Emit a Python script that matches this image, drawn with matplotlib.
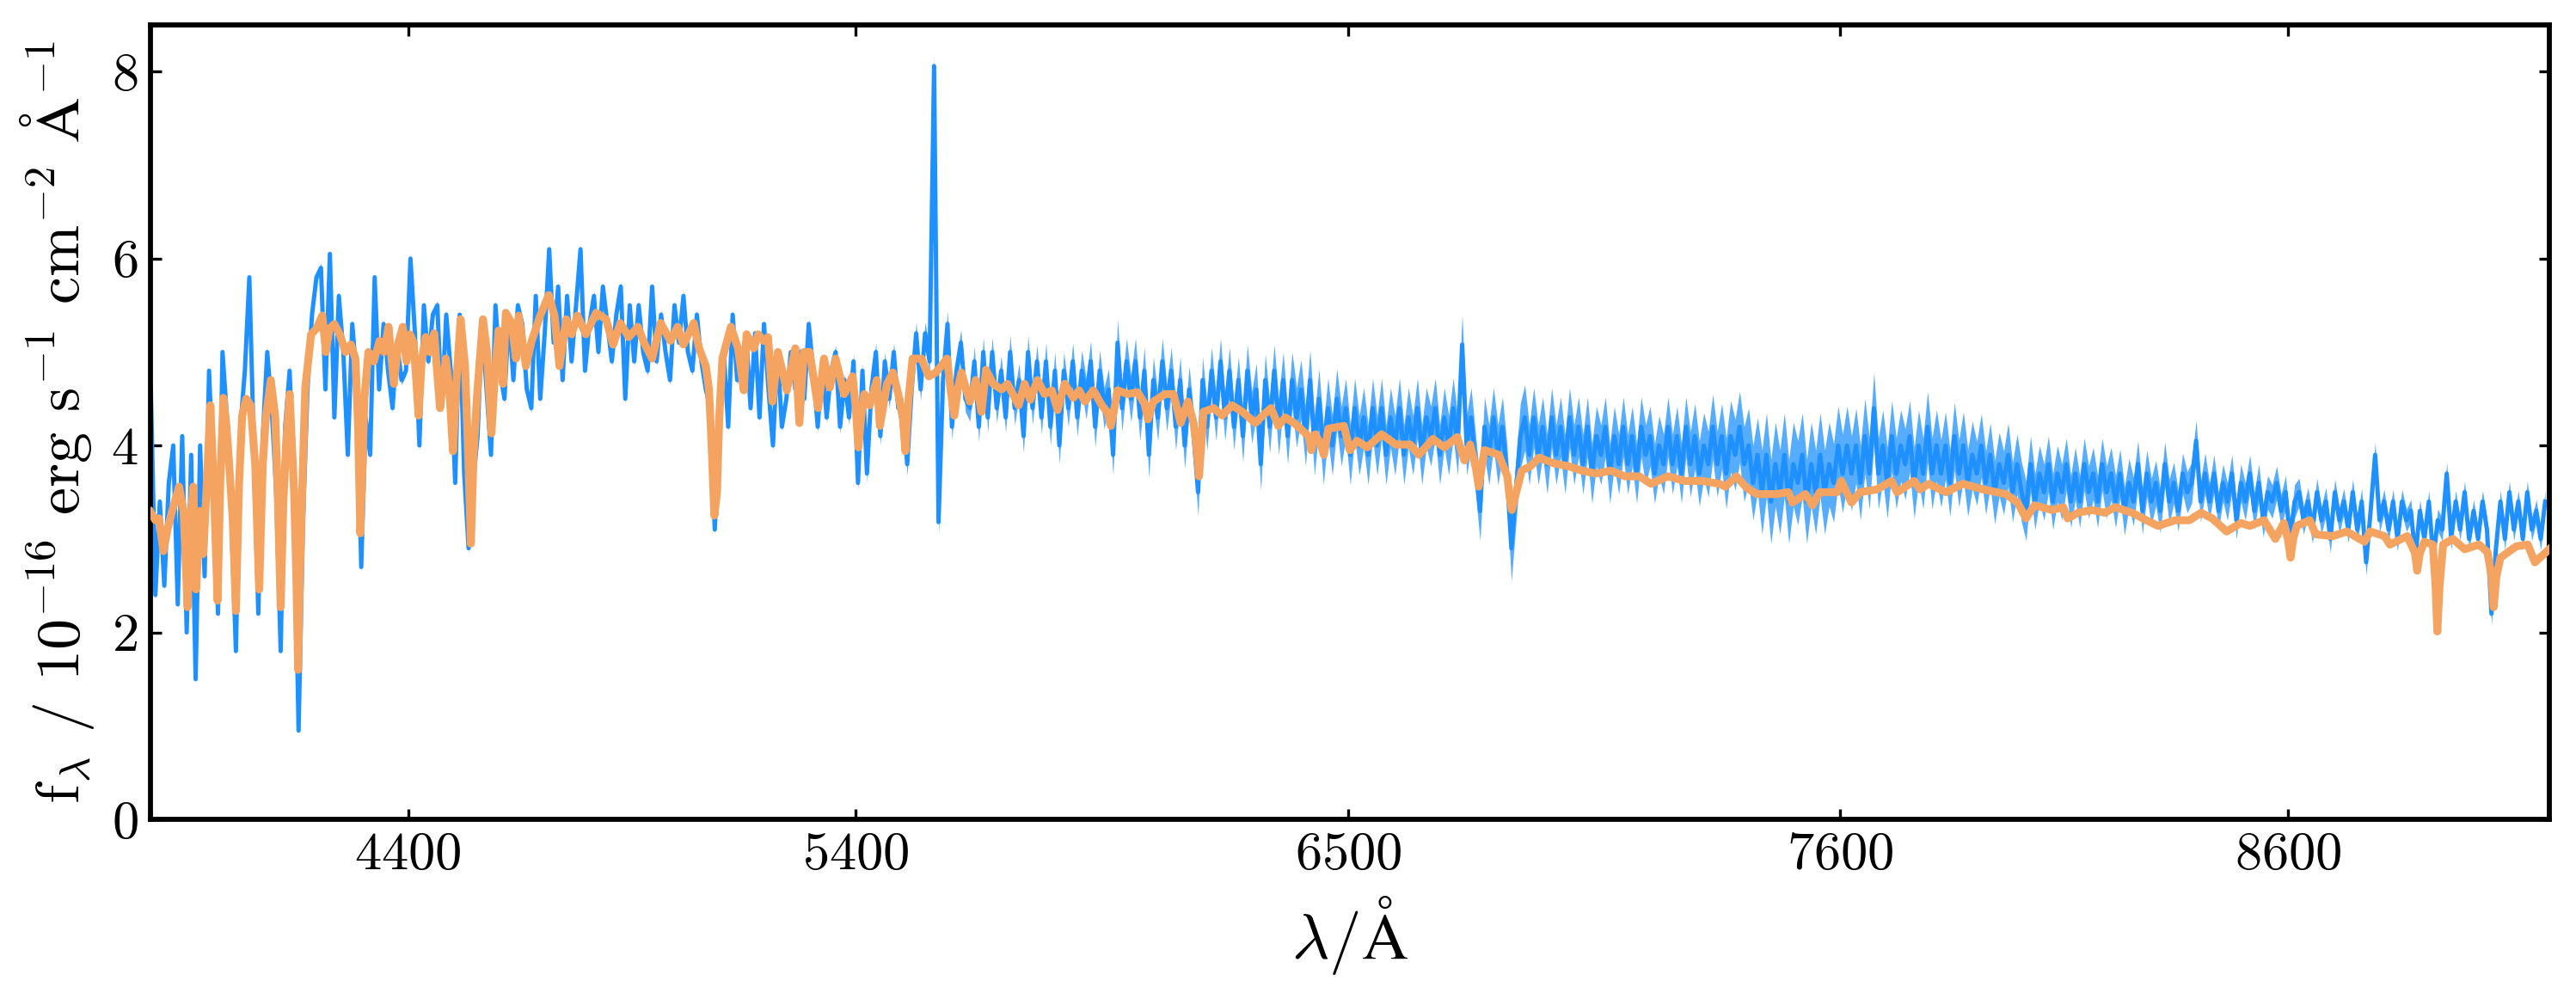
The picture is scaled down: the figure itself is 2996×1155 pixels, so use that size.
import matplotlib.pyplot as plt
import numpy as np

plt.rcParams['font.family'] = 'serif'
plt.rcParams['font.serif'] = ['cmr10']
plt.rcParams['mathtext.fontset'] = 'cm'
plt.rcParams['axes.formatter.use_mathtext'] = True

# observed flux, 10 A sampling from 3825 A
flux = [
    4.6, 2.4, 3.4, 2.5, 3.6, 4.0, 2.3, 4.1, 2.0, 3.9, 1.5, 4.0, 2.6, 4.8, 3.6, 2.2, 5.0, 4.3, 3.2, 1.8,
    4.2, 4.8, 5.8, 4.0, 2.2, 4.1, 5.0, 4.4, 3.5, 1.8, 4.2, 4.8, 3.6, 0.95, 3.2, 4.6, 5.4, 5.8, 5.9, 4.6,
    6.05, 4.3, 5.6, 5.0, 3.9, 5.3, 4.7, 2.7, 4.3, 3.9, 5.8, 4.6, 5.3, 4.8, 4.4, 5.1, 4.7, 4.8, 6.0, 5.2,
    4.0, 5.5, 4.9, 5.4, 5.5, 4.4, 5.4, 4.8, 3.6, 5.4, 3.7, 2.9, 3.6, 4.1, 5.3, 4.6, 3.9, 5.5, 4.8, 4.5,
    5.4, 4.7, 5.5, 5.3, 4.6, 4.4, 5.6, 4.5, 5.2, 6.1, 5.1, 5.7, 4.7, 5.6, 4.9, 5.5, 6.1, 4.8, 5.3, 5.6,
    5.0, 5.7, 5.3, 4.9, 5.4, 5.7, 4.5, 5.5, 4.9, 5.5, 5.0, 4.8, 5.7, 4.9, 5.4, 5.0, 4.7, 5.5, 5.1, 5.6,
    5.0, 4.8, 5.4, 4.9, 4.6, 4.4, 3.1, 4.2, 5.0, 4.2, 5.4, 4.7, 4.9, 5.2, 4.4, 5.2, 4.3, 5.3, 4.6, 4.0,
    5.0, 4.2, 4.5, 5.0, 4.6, 5.0, 4.5, 5.3, 4.8, 4.2, 4.9, 4.3, 4.8, 5.0, 4.2, 4.7, 4.3, 4.9, 3.6, 4.8,
    3.7, 4.6, 5.0, 4.1, 4.9, 4.5, 5.0, 4.4, 4.4, 3.8, 4.6, 5.2, 4.6, 5.2, 4.9, 8.06, 3.18, 4.7, 5.3, 4.2,
    4.8, 5.1, 4.5, 4.4, 4.9, 4.2, 5.0, 4.3, 5.0, 4.4, 4.8, 4.3, 5.0, 4.4, 4.7, 4.1, 5.0, 4.4, 4.9, 4.3,
    4.9, 4.2, 4.8, 4.0, 4.8, 4.4, 4.9, 4.3, 4.8, 4.5, 4.9, 4.2, 4.8, 4.4, 4.6, 3.9, 5.1, 4.4, 4.9, 4.5,
    4.9, 4.3, 4.8, 3.9, 4.7, 4.3, 4.9, 4.4, 4.8, 4.2, 4.7, 4.0, 4.6, 4.1, 3.5, 4.7, 4.2, 4.8, 4.3, 4.9,
    4.3, 4.8, 4.2, 4.7, 4.1, 4.8, 4.3, 4.6, 3.8, 4.7, 4.2, 4.8, 4.2, 4.7, 4.1, 4.7, 4.3, 4.6, 4.1, 4.7,
    4.0, 4.5, 3.9, 4.4, 4.0, 4.5, 4.1, 4.4, 3.9, 4.4, 4.0, 4.3, 3.9, 4.4, 4.0, 4.4, 3.9, 4.3, 4.0, 4.4,
    3.9, 4.3, 4.0, 4.4, 3.9, 4.3, 4.1, 4.4, 3.9, 4.3, 4.0, 4.4, 4.0, 5.08, 4.0, 4.3, 3.8, 3.3, 4.2, 3.9,
    4.3, 3.9, 4.2, 3.7, 2.9, 3.5, 4.1, 4.3, 3.9, 4.3, 3.9, 4.2, 3.8, 4.3, 3.9, 4.2, 3.8, 4.3, 3.9, 4.2,
    3.8, 4.2, 3.7, 4.1, 3.9, 4.2, 3.7, 4.1, 3.8, 4.2, 3.8, 4.1, 3.7, 4.2, 3.9, 4.1, 3.7, 4.0, 3.8, 4.2,
    3.8, 4.1, 3.7, 4.2, 3.8, 4.1, 3.7, 4.0, 3.8, 4.2, 3.8, 4.1, 3.7, 4.1, 3.9, 4.2, 3.8, 4.0, 3.6, 3.9,
    3.5, 3.9, 3.4, 3.8, 3.5, 3.9, 3.4, 3.8, 3.6, 3.9, 3.4, 3.8, 3.5, 3.9, 3.5, 3.8, 3.6, 4.0, 3.7, 4.0,
    3.7, 4.0, 3.6, 4.1, 3.7, 4.4, 3.7, 4.0, 3.6, 4.1, 3.7, 4.0, 3.8, 4.1, 3.6, 4.0, 3.7, 4.2, 3.7, 4.0,
    3.7, 4.0, 3.6, 4.1, 3.7, 4.0, 3.6, 3.9, 3.7, 4.0, 3.6, 3.9, 3.5, 3.8, 3.6, 3.9, 3.5, 3.8, 3.5, 3.3,
    3.8, 3.4, 3.7, 3.5, 3.8, 3.4, 3.7, 3.5, 3.8, 3.4, 3.7, 3.4, 3.8, 3.5, 3.7, 3.4, 3.8, 3.5, 3.7, 3.4,
    3.7, 3.3, 3.6, 3.4, 3.8, 3.3, 3.7, 3.4, 3.6, 3.3, 3.8, 3.4, 3.6, 3.3, 3.7, 3.5, 3.6, 4.05, 3.4, 3.7,
    3.4, 3.7, 3.3, 3.6, 3.4, 3.7, 3.2, 3.6, 3.4, 3.7, 3.3, 3.6, 3.2, 3.5, 3.4, 3.6, 3.3, 3.5, 3.0, 3.4,
    3.5, 3.2, 3.4, 3.1, 3.5, 3.2, 3.4, 3.0, 3.5, 3.2, 3.4, 3.1, 3.5, 3.1, 3.4, 2.75, 3.3, 3.9, 3.2, 3.4,
    3.1, 3.4, 3.0, 3.4, 3.2, 3.3, 2.8, 3.3, 3.0, 3.4, 2.8, 3.2, 3.1, 3.7, 3.0, 3.4, 3.1, 3.5, 3.0, 3.3,
    3.0, 3.4, 3.1, 2.2, 2.9, 3.4, 3.0, 3.5, 3.1, 3.4, 3.0, 3.5, 3.1, 3.3, 3.0, 3.4,
]
wave = 3825 + 10 * np.arange(len(flux))

# flux uncertainty, one value per 40 A block (4 samples)
err = [
    0.05, 0.05, 0.05, 0.05, 0.05, 0.05, 0.05, 0.05, 0.05, 0.05,
    0.05, 0.05, 0.05, 0.05, 0.05, 0.05, 0.05, 0.05, 0.05, 0.05,
    0.05, 0.05, 0.05, 0.05, 0.05, 0.05, 0.05, 0.05, 0.05, 0.05,
    0.05, 0.05, 0.05, 0.05, 0.05, 0.05, 0.06, 0.06, 0.07, 0.08,
    0.1, 0.1, 0.12, 0.12, 0.14, 0.14, 0.16, 0.16, 0.18, 0.18,
    0.2, 0.2, 0.22, 0.22, 0.25, 0.25, 0.25, 0.25, 0.25, 0.25,
    0.25, 0.28, 0.28, 0.3, 0.32, 0.32, 0.32, 0.32, 0.32, 0.32,
    0.32, 0.32, 0.32, 0.32, 0.32, 0.32, 0.35, 0.32, 0.32, 0.32,
    0.32, 0.32, 0.32, 0.32, 0.32, 0.32, 0.35, 0.35, 0.38, 0.4,
    0.45, 0.45, 0.45, 0.45, 0.42, 0.4, 0.38, 0.38, 0.38, 0.38,
    0.36, 0.36, 0.34, 0.34, 0.32, 0.3, 0.3, 0.28, 0.28, 0.28,
    0.26, 0.25, 0.24, 0.22, 0.22, 0.2, 0.2, 0.2, 0.18, 0.18,
    0.15, 0.15, 0.14, 0.14, 0.13, 0.13, 0.12, 0.12, 0.12, 0.12,
    0.12, 0.12, 0.12, 0.12,
]
flux_err = np.repeat(err, 4)

# model spectrum
model_wave = [
    3824, 3835, 3843, 3853, 3862, 3872, 3888, 3898, 3907, 3914,
    3920, 3926, 3935, 3942, 3950, 3958, 3966, 3974, 3980, 3987,
    3994, 4000, 4008, 4015, 4022, 4029, 4038, 4048, 4058, 4067,
    4075, 4082, 4093, 4103, 4109, 4115, 4121, 4127, 4135, 4145,
    4150, 4154, 4158, 4163, 4170, 4183, 4195, 4208, 4216, 4224,
    4235, 4247, 4260, 4272, 4282, 4288, 4293, 4298, 4302, 4311,
    4323, 4336, 4346, 4356, 4368, 4378, 4388, 4396, 4404, 4412,
    4418, 4423, 4430, 4439, 4448, 4458, 4471, 4484, 4492, 4500,
    4508, 4517, 4527, 4534, 4540, 4546, 4554, 4567, 4576, 4586,
    4594, 4602, 4612, 4618, 4631, 4641, 4647, 4663, 4676, 4695,
    4714, 4727, 4738, 4753, 4765, 4778, 4797, 4820, 4842, 4858,
    4874, 4893, 4913, 4929, 4945, 4964, 4986, 5002, 5015, 5038,
    5050, 5065, 5072, 5078, 5084, 5090, 5095, 5102, 5121, 5137,
    5150, 5156, 5172, 5182, 5194, 5204, 5214, 5226, 5246, 5265,
    5274, 5284, 5297, 5316, 5329, 5342, 5355, 5374, 5393, 5400,
    5406, 5412, 5419, 5431, 5447, 5454, 5470, 5483, 5495, 5505,
    5511, 5518, 5527, 5547, 5563, 5579, 5604, 5612, 5620, 5628,
    5636, 5655, 5668, 5681, 5691, 5707, 5726, 5739, 5764, 5777,
    5790, 5806, 5822, 5838, 5851, 5867, 5886, 5899, 5912, 5931,
    5950, 5963, 5970, 5976, 5985, 6008, 6030, 6045, 6053, 6065,
    6091, 6110, 6126, 6142, 6155, 6161, 6167, 6172, 6177, 6200,
    6219, 6241, 6264, 6293, 6309, 6328, 6344, 6360, 6382, 6412,
    6418, 6427, 6440, 6446, 6456, 6491, 6504, 6520, 6543, 6575,
    6607, 6639, 6658, 6690, 6715, 6744, 6760, 6773, 6786, 6792,
    6798, 6805, 6837, 6856, 6861, 6866, 6876, 6888, 6908, 6927,
    6959, 6991, 7023, 7055, 7087, 7119, 7151, 7177, 7215, 7253,
    7292, 7330, 7343, 7368, 7390, 7413, 7458, 7484, 7493, 7522,
    7538, 7554, 7593, 7602, 7625, 7644, 7682, 7714, 7727, 7746,
    7765, 7778, 7797, 7836, 7874, 7919, 7970, 7996, 8015, 8034,
    8073, 8098, 8108, 8131, 8163, 8191, 8214, 8252, 8284, 8310,
    8348, 8380, 8406, 8431, 8463, 8495, 8515, 8547, 8572, 8591,
    8600, 8606, 8612, 8620, 8649, 8662, 8700, 8732, 8771, 8784,
    8816, 8828, 8867, 8884, 8889, 8895, 8905, 8924, 8930, 8934,
    8939, 8947, 8969, 8995, 9027, 9046, 9055, 9060, 9066, 9075,
    9110, 9136, 9152, 9184,
]
model_flux = [
    3.29, 3.20, 3.22, 2.87, 3.10, 3.29, 3.56, 3.30, 2.27, 3.20,
    3.56, 2.46, 3.30, 2.84, 3.60, 4.43, 3.50, 2.34, 3.60, 4.51,
    4.20, 3.79, 3.20, 2.23, 3.60, 4.32, 4.50, 4.43, 3.80, 2.46,
    3.80, 4.30, 4.70, 4.30, 3.40, 2.27, 3.40, 4.00, 4.55, 3.50,
    2.60, 1.60, 2.60, 3.50, 4.62, 5.19, 5.25, 5.39, 5.00, 5.25,
    5.30, 5.19, 5.00, 5.08, 4.93, 4.20, 3.06, 3.80, 4.50, 5.00,
    4.90, 5.12, 5.00, 5.27, 4.66, 5.10, 5.27, 4.90, 5.19, 5.10,
    4.70, 4.32, 4.90, 5.16, 5.00, 5.20, 4.40, 4.93, 4.60, 3.94,
    4.70, 5.35, 4.85, 3.90, 2.95, 3.90, 4.55, 5.35, 5.00, 4.13,
    4.80, 5.23, 4.66, 5.42, 5.31, 4.93, 5.39, 4.85, 5.12, 5.39,
    5.61, 5.39, 4.85, 5.35, 5.19, 5.39, 5.19, 5.42, 5.35, 5.08,
    5.31, 5.16, 5.27, 5.08, 4.93, 5.31, 5.12, 5.27, 5.08, 5.31,
    5.04, 4.85, 4.60, 4.00, 3.25, 3.50, 4.30, 4.93, 5.27, 5.04,
    4.59, 5.19, 5.04, 5.19, 5.12, 5.16, 4.47, 5.00, 4.59, 5.04,
    4.24, 5.00, 5.00, 4.40, 4.93, 4.62, 4.93, 4.55, 4.74, 4.40,
    3.98, 4.30, 4.55, 4.43, 4.70, 4.21, 4.66, 4.78, 4.55, 4.30,
    3.94, 4.50, 4.93, 4.93, 4.74, 4.78, 4.93, 4.60, 4.32, 4.60,
    4.78, 4.47, 4.70, 4.36, 4.81, 4.66, 4.60, 4.66, 4.43, 4.66,
    4.49, 4.70, 4.55, 4.59, 4.38, 4.66, 4.51, 4.59, 4.47, 4.59,
    4.43, 4.35, 4.21, 4.35, 4.59, 4.55, 4.57, 4.45, 4.28, 4.47,
    4.55, 4.55, 4.24, 4.47, 4.24, 4.00, 3.67, 4.00, 4.36, 4.40,
    4.32, 4.43, 4.36, 4.24, 4.32, 4.40, 4.21, 4.30, 4.23, 4.10,
    3.95, 4.12, 4.00, 3.90, 4.18, 4.21, 3.95, 4.05, 3.98, 4.12,
    4.01, 4.01, 3.90, 4.07, 3.98, 4.09, 3.84, 4.01, 3.75, 3.56,
    3.75, 3.95, 3.90, 3.67, 3.45, 3.31, 3.50, 3.73, 3.78, 3.87,
    3.81, 3.78, 3.73, 3.70, 3.73, 3.67, 3.67, 3.59, 3.67, 3.62,
    3.62, 3.59, 3.56, 3.67, 3.55, 3.48, 3.48, 3.50, 3.39, 3.48,
    3.36, 3.50, 3.50, 3.62, 3.39, 3.50, 3.53, 3.62, 3.50, 3.56,
    3.62, 3.53, 3.59, 3.50, 3.59, 3.53, 3.48, 3.39, 3.22, 3.36,
    3.31, 3.34, 3.22, 3.28, 3.31, 3.28, 3.34, 3.28, 3.20, 3.14,
    3.20, 3.20, 3.28, 3.22, 3.08, 3.17, 3.14, 3.20, 3.00, 3.17,
    3.00, 2.80, 3.00, 3.14, 3.20, 3.05, 3.03, 3.08, 2.97, 3.08,
    3.03, 2.94, 3.03, 2.85, 2.66, 2.85, 2.97, 2.94, 2.50, 2.01,
    2.50, 2.94, 3.00, 2.89, 2.94, 2.86, 2.60, 2.27, 2.60, 2.80,
    2.92, 2.94, 2.75, 2.89,
]

fig = plt.figure(figsize=(2996 / 300, 1155 / 300), dpi=300)
ax = fig.add_axes([0.0584, 0.1749, 0.9312, 0.8000])

flux = np.array(flux)
ax.fill_between(wave, flux - flux_err, flux + flux_err, color='#56acff', lw=0, zorder=1)
ax.plot(wave, flux, color='dodgerblue', lw=1.2, zorder=2)
ax.plot(model_wave, model_flux, color='sandybrown', lw=2.2, zorder=3)

ax.set_xlim(3824, 9184)
ax.set_ylim(0, 8.5)
ax.set_xticks([4400, 5400, 6500, 7600, 8600])
ax.set_yticks([0, 2, 4, 6, 8])
ax.tick_params(direction='in', top=True, right=True, length=3, width=0.8, labelsize=15)
for s in ax.spines.values():
    s.set_linewidth(1.4)

ax.set_xlabel(r'$\lambda/\mathrm{\AA}$', fontsize=18)
ax.set_ylabel(r'f$_\lambda$ / 10$^{-16}$ erg s$^{-1}$ cm$^{-2}$ $\mathrm{\AA}^{-1}$', fontsize=17.3)

fig.savefig('out.png', dpi=300)
